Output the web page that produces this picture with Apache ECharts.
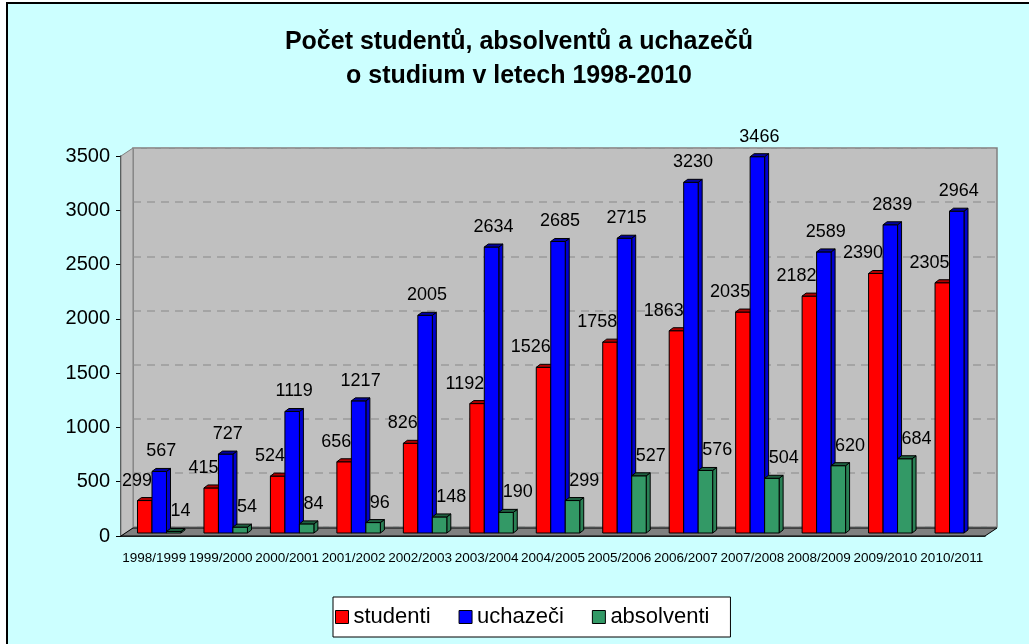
<!DOCTYPE html>
<html lang="cs">
<head>
<meta charset="UTF-8">
<title>Počet studentů, absolventů a uchazečů</title>
<script src="https://cdn.jsdelivr.net/npm/echarts@6/dist/echarts.min.js"></script>
<style>
    html, body { margin: 0; padding: 0; background: #fff; }
    #main { width: 1029px; height: 644px; }
</style>
</head>
<body>
<div id="main"></div>
<script>
    // data
    var roky = ['1998/1999', '1999/2000', '2000/2001', '2001/2002', '2002/2003', '2003/2004', '2004/2005',
                '2005/2006', '2006/2007', '2007/2008', '2008/2009', '2009/2010', '2010/2011'];
    var studenti = [299, 415, 524, 656, 826, 1192, 1526, 1758, 1863, 2035, 2182, 2390, 2305];
    var uchazeci = [567, 727, 1119, 1217, 2005, 2634, 2685, 2715, 3230, 3466, 2589, 2839, 2964];
    var absolventi = [14, 54, 84, 96, 148, 190, 299, 527, 576, 504, 620, 684, null];
    var nazvy = ['studenti', 'uchazeči', 'absolventi'];
    var osaMin = 0, osaMax = 3500, osaKrok = 500;

    var pismo = '"Liberation Sans", Arial, sans-serif';

    // 3D sloupec: přední stěna, vršek, bok + popisek
    function kvadr(poradi, barva, vrsek, bok, zarovnani) {
        return function (params, api) {
            var hodnota = api.value(1);
            if (hodnota == null || isNaN(hodnota)) return;
            var pata = api.coord([api.value(0), 0]);
            var vrch = api.coord([api.value(0), hodnota]);
            var pasmo = api.size([1, 0])[0];
            var w = pasmo * 0.218;
            var x0 = pata[0] - 1.5 * w + 5 + poradi * w;
            var yb = pata[1] - 3, yt = vrch[1] - 3;
            var hx = 4, hy = 3;
            var tx = zarovnani === 'right' ? x0 + w : (zarovnani === 'left' ? x0 + 4 : x0 + w / 2 + 2);
            return {
                type: 'group',
                children: [{
                    type: 'polygon',
                    shape: { points: [[x0 + w, yt], [x0 + w + hx, yt - hy], [x0 + w + hx, yb - hy], [x0 + w, yb]] },
                    style: { fill: bok, stroke: '#000', lineWidth: 1 }
                }, {
                    type: 'rect',
                    shape: { x: x0, y: yt, width: w, height: yb - yt },
                    style: { fill: barva, stroke: '#000', lineWidth: 1 }
                }, {
                    type: 'polygon',
                    shape: { points: [[x0, yt], [x0 + hx, yt - hy], [x0 + w + hx, yt - hy], [x0 + w, yt]] },
                    style: { fill: vrsek, stroke: '#000', lineWidth: 1 }
                }, {
                    type: 'text',
                    z2: 100,
                    style: {
                        text: String(hodnota), x: tx, y: yt - hy - 8,
                        align: zarovnani, verticalAlign: 'bottom',
                        font: '18px ' + pismo, fill: '#000'
                    }
                }]
            };
        };
    }

    function radek(pole) {
        return pole.map(function (v, i) { return [i, v]; });
    }

    var chart = echarts.init(document.getElementById('main'));
    chart.setOption({
        animation: false,
        backgroundColor: '#fff',
        title: {
            text: 'Počet studentů, absolventů a uchazečů\no studium v letech 1998-2010',
            left: 514,
            top: 20,
            textAlign: 'center',
            textStyle: { fontFamily: pismo, fontSize: 25, fontWeight: 'bold', color: '#000', lineHeight: 34 }
        },
        legend: {
            data: nazvy,
            left: 333,
            top: 597,
            icon: 'rect',
            itemWidth: 13,
            itemHeight: 13,
            itemGap: 28,
            padding: [9, 21, 9, 2],
            borderColor: '#000',
            borderWidth: 1,
            backgroundColor: '#fff',
            itemStyle: { borderColor: '#000', borderWidth: 1 },
            textStyle: { fontFamily: pismo, fontSize: 22, color: '#000' }
        },
        graphic: [{
            type: 'rect', z: -10, silent: true,
            shape: { x: 7, y: 3, width: 1040, height: 660 },
            style: { fill: '#CCFFFF', stroke: '#000', lineWidth: 2 }
        }, {
            // levá boční stěna
            type: 'polygon', z: 1, silent: true,
            shape: { points: [[121, 536], [121, 156], [133, 148], [133, 528]] },
            style: { fill: '#C0C0C0', stroke: '#808080', lineWidth: 1 }
        }, {
            // podlaha
            type: 'polygon', z: 1, silent: true,
            shape: { points: [[121, 536], [133, 528], [997, 528], [985, 536]] },
            style: { fill: '#808080', stroke: '#000', lineWidth: 1 }
        }],
        grid: [{
            left: 133, right: 32, top: 148, bottom: 117,
            show: true, backgroundColor: '#C0C0C0', borderColor: '#808080', borderWidth: 1.5
        }, {
            left: 121, right: 44, top: 156, bottom: 108
        }],
        xAxis: [{
            gridIndex: 0, type: 'category', data: roky, show: false
        }, {
            gridIndex: 1, type: 'category', data: roky,
            axisLine: { lineStyle: { color: '#000', width: 1.5 } },
            axisTick: { length: 5, lineStyle: { color: '#000' } },
            axisLabel: { fontFamily: pismo, fontSize: 13.5, color: '#000', margin: 15, interval: 0 }
        }],
        yAxis: [{
            gridIndex: 0, type: 'value', min: osaMin, max: osaMax, interval: osaKrok,
            axisLine: { show: false }, axisTick: { show: false }, axisLabel: { show: false },
            splitLine: { lineStyle: { color: '#9A9A9A', type: [8, 6], width: 1.5 } }
        }, {
            gridIndex: 1, type: 'value', min: osaMin, max: osaMax, interval: osaKrok,
            axisLine: { show: true, lineStyle: { color: '#000', width: 1.5 } },
            axisTick: { show: true, length: 5, lineStyle: { color: '#000' } },
            splitLine: { show: false },
            axisLabel: {
                fontFamily: pismo, fontSize: 20, color: '#000', margin: 11,
                formatter: function (v) { return String(v); }
            }
        }],
        series: [{
            name: nazvy[0], type: 'custom', xAxisIndex: 1, yAxisIndex: 1, z: 5,
            itemStyle: { color: '#FF0000' },
            renderItem: kvadr(0, '#FF0000', '#B00000', '#D00000', 'right'),
            data: radek(studenti)
        }, {
            name: nazvy[1], type: 'custom', xAxisIndex: 1, yAxisIndex: 1, z: 5,
            itemStyle: { color: '#0000FF' },
            renderItem: kvadr(1, '#0000FF', '#0000A0', '#0000D0', 'center'),
            data: radek(uchazeci)
        }, {
            name: nazvy[2], type: 'custom', xAxisIndex: 1, yAxisIndex: 1, z: 5,
            itemStyle: { color: '#339966' },
            renderItem: kvadr(2, '#339966', '#1F6040', '#2A8055', 'left'),
            data: radek(absolventi)
        }]
    });
</script>
</body>
</html>
